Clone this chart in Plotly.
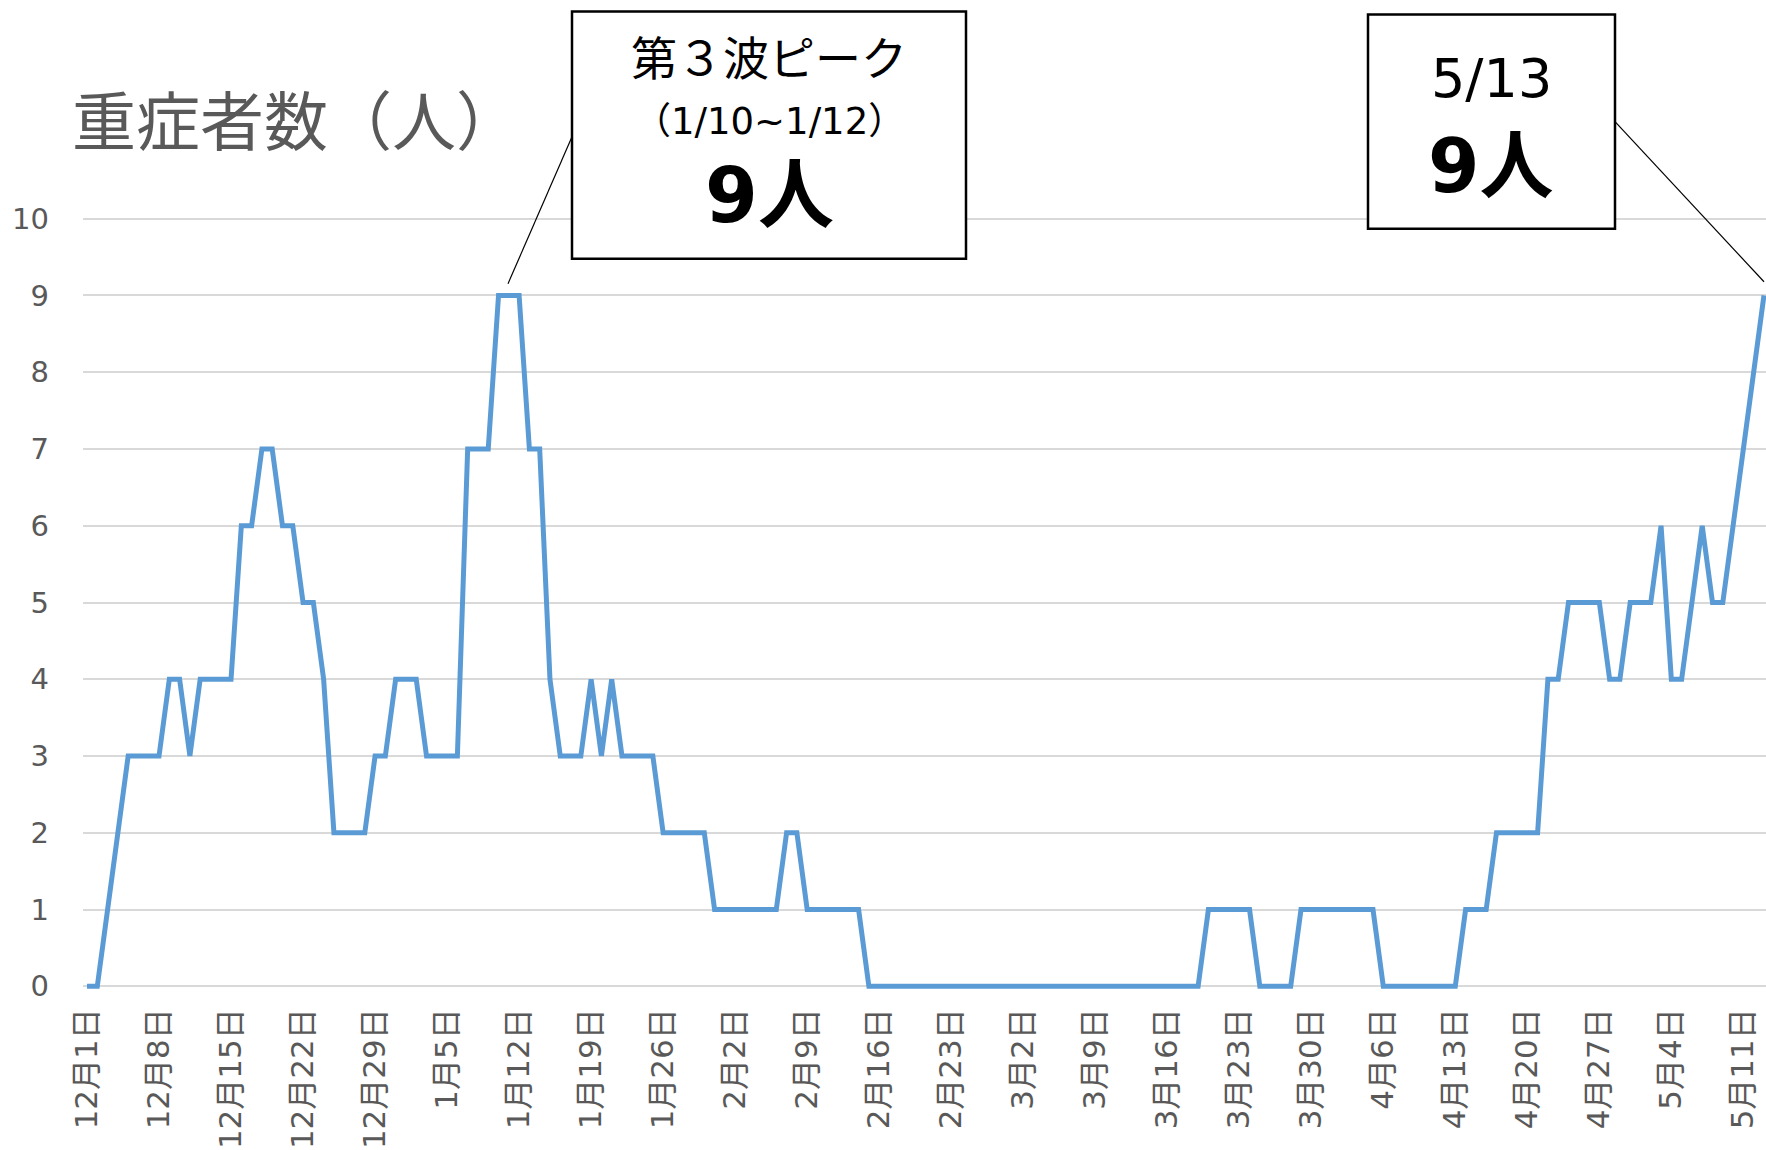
import pandas as pd
import plotly.graph_objects as go

# ---------------- data ----------------
start_date = "2020-12-01"
end_date = "2021-05-13"

severe_dec = [0, 0, 1, 2, 3, 3, 3, 3, 4, 4, 3, 4, 4, 4, 4, 6, 6, 7, 7, 6, 6, 5, 5, 4, 2, 2, 2, 2, 3, 3, 4]
severe_jan = [4, 4, 3, 3, 3, 3, 7, 7, 7, 9, 9, 9, 7, 7, 4, 3, 3, 3, 4, 3, 4, 3, 3, 3, 3, 2, 2, 2, 2, 2, 1]
severe_feb = [1, 1, 1, 1, 1, 1, 2, 2, 1, 1, 1, 1, 1, 1, 0, 0, 0, 0, 0, 0, 0, 0, 0, 0, 0, 0, 0, 0]
severe_mar = [0, 0, 0, 0, 0, 0, 0, 0, 0, 0, 0, 0, 0, 0, 0, 0, 0, 0, 0, 1, 1, 1, 1, 1, 0, 0, 0, 0, 1, 1, 1]
severe_apr = [1, 1, 1, 1, 1, 0, 0, 0, 0, 0, 0, 0, 0, 1, 1, 1, 2, 2, 2, 2, 2, 4, 4, 5, 5, 5, 5, 4, 4, 5]
severe_may = [5, 5, 6, 4, 4, 5, 6, 5, 5, 6, 7, 8, 9]

tick_labels = ["12月1日", "12月8日", "12月15日", "12月22日", "12月29日", "1月5日", "1月12日",
               "1月19日", "1月26日", "2月2日", "2月9日", "2月16日", "2月23日", "3月2日", "3月9日",
               "3月16日", "3月23日", "3月30日", "4月6日", "4月13日", "4月20日", "4月27日",
               "5月4日", "5月11日"]
y_ticks = [0, 1, 2, 3, 4, 5, 6, 7, 8, 9, 10]

title_text = "重症者数（人）"
peak_title = "第３波ピーク"
peak_range = "（1/10~1/12）"
peak_value = "9人"
latest_date = "5/13"
latest_value = "9人"

dates = pd.date_range(start_date, end_date, freq="D")
values = severe_dec + severe_jan + severe_feb + severe_mar + severe_apr + severe_may
tick_dates = pd.date_range(start_date, periods=len(tick_labels), freq="7D")

# ---------------- layout geometry ----------------
W, H = 1766, 1150
L, R = 83, 1766
T, B = 211.3, 993.7

def xp(px):
    return (px - L) / (R - L)

def yp(py):
    return (B - py) / (B - T)

GREY = "#595959"
FONT = "DejaVu Sans, Noto Sans CJK JP, sans-serif"
JP = "Noto Sans CJK JP, sans-serif"

fig = go.Figure()
fig.add_trace(go.Scatter(
    x=dates, y=values, mode="lines",
    line=dict(color="#5B9BD5", width=5),
    hoverinfo="skip", showlegend=False,
))

x0 = pd.Timestamp(start_date) - pd.Timedelta(hours=0.39 * 24)
x1 = pd.Timestamp(end_date) + pd.Timedelta(hours=0.2 * 24)

fig.update_layout(
    width=W, height=H, autosize=False,
    margin=dict(l=L, r=W - R, t=T, b=H - B, pad=0),
    paper_bgcolor="white", plot_bgcolor="white",
    font=dict(family=FONT, color=GREY),
    xaxis=dict(
        type="date", range=[x0, x1],
        tickmode="array", tickvals=list(tick_dates), ticktext=tick_labels,
        tickangle=-90, tickfont=dict(size=31, color=GREY, family=FONT),
        showgrid=False, zeroline=False, showline=False, ticks="",
        ticklabelstandoff=7,
    ),
    yaxis=dict(
        range=[-0.1, 10.1], tickmode="array", tickvals=y_ticks,
        tickfont=dict(size=29, color=GREY, family=FONT),
        showgrid=True, gridcolor="#D9D9D9", gridwidth=1.5,
        zeroline=False, showline=False, ticks="",
        ticklabelstandoff=33,
    ),
)

shapes = []
# annotation boxes
shapes.append(dict(type="rect", xref="paper", yref="paper",
                   x0=xp(572), x1=xp(966), y0=yp(259), y1=yp(12),
                   line=dict(color="black", width=2.5), fillcolor="white", layer="above"))
shapes.append(dict(type="rect", xref="paper", yref="paper",
                   x0=xp(1368), x1=xp(1615), y0=yp(229), y1=yp(15),
                   line=dict(color="black", width=2.5), fillcolor="white", layer="above"))
# leader lines
shapes.append(dict(type="line", xref="paper", yref="paper",
                   x0=xp(572), y0=yp(137), x1=xp(508), y1=yp(284),
                   line=dict(color="black", width=1.2), layer="above"))
shapes.append(dict(type="line", xref="paper", yref="paper",
                   x0=xp(1615), y0=yp(122), x1=xp(1764), y1=yp(282),
                   line=dict(color="black", width=1.2), layer="above"))
fig.update_layout(shapes=shapes)

annots = [
    dict(text=title_text, x=xp(70), y=yp(117), xanchor="left", yanchor="middle",
         font=dict(size=64, color=GREY, family=JP)),
    dict(text=peak_title, x=xp(769), y=yp(55), xanchor="center", yanchor="middle",
         font=dict(size=46, color="black", family=JP)),
    dict(text=peak_range, x=xp(769), y=yp(122), xanchor="center", yanchor="middle",
         font=dict(size=37, color="black", family=FONT)),
    dict(text="<b>" + peak_value + "</b>", x=xp(769), y=yp(196), xanchor="center", yanchor="middle",
         font=dict(size=76, color="black", family=FONT)),
    dict(text=latest_date, x=xp(1491), y=yp(79), xanchor="center", yanchor="middle",
         font=dict(size=54, color="black", family=FONT)),
    dict(text="<b>" + latest_value + "</b>", x=xp(1491), y=yp(166), xanchor="center", yanchor="middle",
         font=dict(size=74, color="black", family=FONT)),
]
for a in annots:
    a.update(xref="paper", yref="paper", showarrow=False)
fig.update_layout(annotations=annots)

fig.write_html(
    "out.html",
    config={"displayModeBar": False},
    post_script="document.body.style.margin='0';document.body.style.overflow='hidden';",
)
